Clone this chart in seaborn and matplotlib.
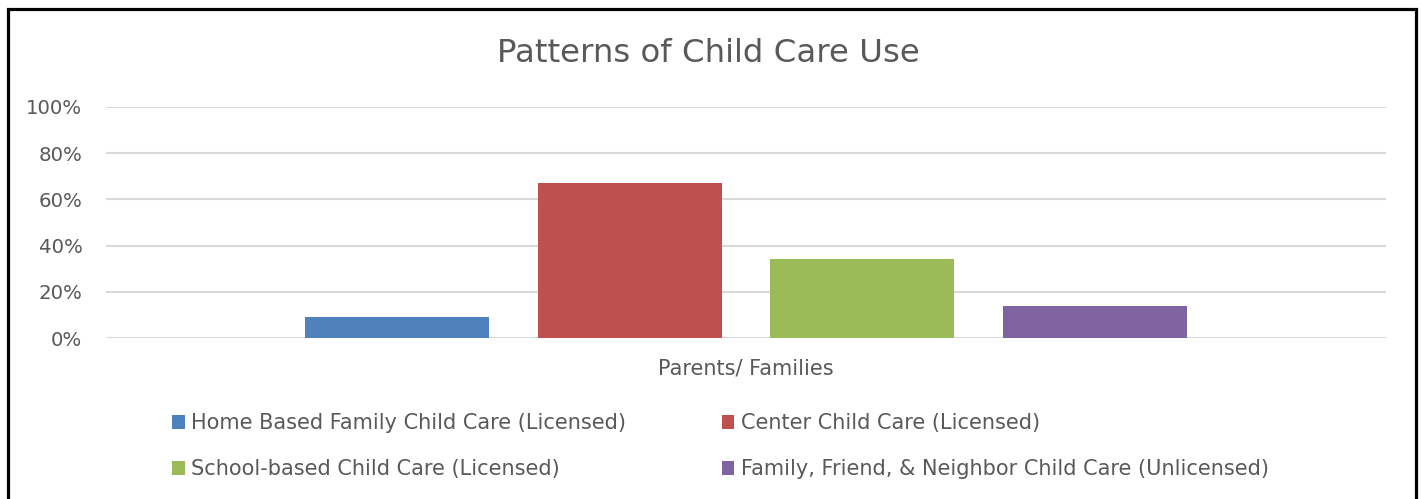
import matplotlib
matplotlib.use("Agg")
import matplotlib.pyplot as plt
from matplotlib.patches import Rectangle
from matplotlib.ticker import PercentFormatter
import pandas as pd
import seaborn as sns

# Share of parents/families using each type of child care
group_label = "Parents/ Families"
care_types = [
    "Home Based Family Child Care (Licensed)",
    "Center Child Care (Licensed)",
    "School-based Child Care (Licensed)",
    "Family, Friend, & Neighbor Child Care (Unlicensed)",
]
shares = [0.09, 0.67, 0.34, 0.14]
bar_colors = ["#4F81BD", "#C0504D", "#9BBB59", "#8064A2"]
y_ticks = [0.0, 0.2, 0.4, 0.6, 0.8, 1.0]

df = pd.DataFrame({
    "group": [group_label] * len(care_types),
    "care": care_types,
    "share": shares,
})

sns.set_theme(style="white")
plt.rcParams["font.family"] = ["DejaVu Sans"]
text_color = "#595959"
grid_color = "#D9D9D9"
tick_size = 14.2
label_size = 15.0

W, H = 1423, 499
fig = plt.figure(figsize=(W / 100, H / 100), dpi=100)
fig.patch.set_facecolor("white")
ax = fig.add_axes([106 / W, 1 - 338 / H, 1280 / W, 231 / H])

sns.barplot(
    data=df, x="group", y="share", hue="care", hue_order=care_types,
    palette=bar_colors, width=0.7266, gap=0.209, linewidth=0,
    saturation=1, ax=ax,
)

ax.set_ylim(0, 1)
ax.set_yticks(y_ticks)
ax.yaxis.set_major_formatter(PercentFormatter(1.0, decimals=0))
ax.set_axisbelow(True)
ax.grid(axis="y", color=grid_color, linewidth=1.5)
ax.grid(axis="x", visible=False)
for s in ax.spines.values():
    s.set_visible(False)
ax.tick_params(axis="y", length=0, pad=17, labelsize=tick_size, labelcolor=text_color)
ax.tick_params(axis="x", length=0, pad=14.5, labelsize=label_size, labelcolor=text_color)
ax.set_xlabel("")
ax.set_ylabel("")

# Legend in two columns: row 1 = Home / Center, row 2 = School / FFN
handles, labels = ax.get_legend_handles_labels()
ax.get_legend().remove()
order = [0, 2, 1, 3]
fig.legend(
    [handles[i] for i in order], [labels[i] for i in order],
    ncol=2, loc="upper left", bbox_to_anchor=(164 / W, 1 - 405 / H),
    frameon=False, fontsize=label_size, labelcolor=text_color,
    handlelength=0.6, handleheight=0.6, handletextpad=0.3,
    columnspacing=4.6, labelspacing=1.25, borderaxespad=0,
)

fig.suptitle("Patterns of Child Care Use", x=0.498, y=1 - 53 / H,
             va="center", fontsize=23.3, color=text_color)

# Outer chart frame
fig.patches.append(Rectangle(
    (8 / W, -0.1), 1408 / W, 1.1 - 9 / H, transform=fig.transFigure,
    fill=False, edgecolor="black", linewidth=2.3, zorder=10,
))

fig.savefig("out.png", dpi=100)
